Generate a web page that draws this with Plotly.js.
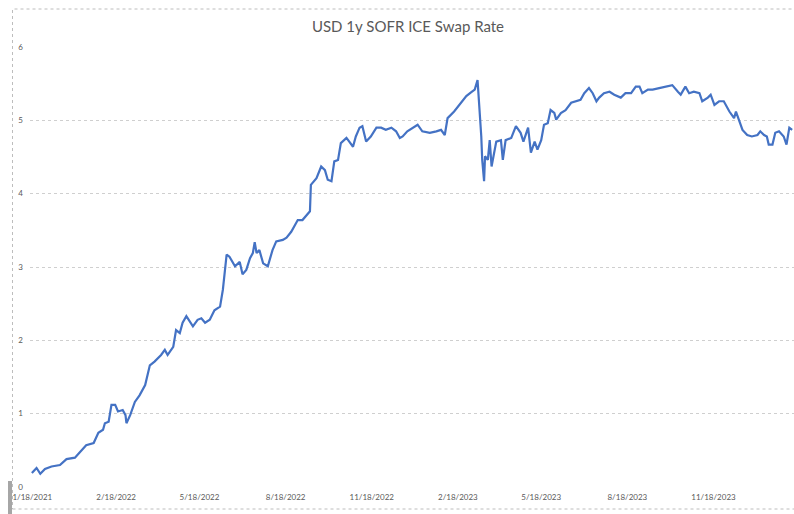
<!DOCTYPE html>
<html>
<head>
<meta charset="utf-8">
<script src="https://cdn.plot.ly/plotly-3.0.1.min.js"></script>
<style>
html,body{margin:0;padding:0;background:#fff;}
#chart{width:794px;height:514px;}
</style>
</head>
<body>
<div id="chart"></div>
<script>
var dates = [
"2021-11-20","2021-11-25","2021-11-29","2021-12-04","2021-12-11","2021-12-20","2021-12-27",
"2022-01-05","2022-01-10","2022-01-17","2022-01-25","2022-01-30","2022-02-04","2022-02-06",
"2022-02-10","2022-02-13","2022-02-17","2022-02-20","2022-02-25","2022-02-28","2022-03-01",
"2022-03-05","2022-03-10","2022-03-15","2022-03-21","2022-03-24","2022-03-26","2022-03-31",
"2022-04-04","2022-04-07","2022-04-11","2022-04-14","2022-04-20","2022-04-23","2022-04-27",
"2022-04-30","2022-05-04","2022-05-08","2022-05-11","2022-05-16","2022-05-20","2022-05-24",
"2022-05-29","2022-06-03","2022-06-09","2022-06-12","2022-06-16","2022-06-19","2022-06-25",
"2022-06-30","2022-07-03","2022-07-07","2022-07-11","2022-07-14","2022-07-16","2022-07-18",
"2022-07-21","2022-07-25","2022-07-30","2022-08-04","2022-08-08","2022-08-15","2022-08-19",
"2022-08-24","2022-08-31","2022-09-05","2022-09-13","2022-09-14","2022-09-20","2022-09-25",
"2022-09-29","2022-10-02","2022-10-06","2022-10-09","2022-10-13","2022-10-16","2022-10-22",
"2022-10-25","2022-10-29","2022-11-01","2022-11-05","2022-11-08","2022-11-12","2022-11-17",
"2022-11-23","2022-11-28","2022-12-03","2022-12-09","2022-12-14","2022-12-18","2022-12-21",
"2022-12-26","2023-01-01","2023-01-06","2023-01-11","2023-01-19","2023-01-26","2023-01-31",
"2023-02-04","2023-02-07","2023-02-14","2023-02-21","2023-02-27","2023-03-04","2023-03-08",
"2023-03-11","2023-03-14","2023-03-15","2023-03-16","2023-03-18","2023-03-19","2023-03-22",
"2023-03-24","2023-03-26","2023-03-31","2023-04-05","2023-04-07","2023-04-10","2023-04-16",
"2023-04-21","2023-04-26","2023-04-29","2023-05-04","2023-05-07","2023-05-11","2023-05-14",
"2023-05-18","2023-05-21","2023-05-25","2023-05-28","2023-06-01","2023-06-03","2023-06-08",
"2023-06-13","2023-06-19","2023-06-24","2023-06-29","2023-07-03","2023-07-08","2023-07-12",
"2023-07-16","2023-07-19","2023-07-24","2023-07-30","2023-08-04","2023-08-11","2023-08-16",
"2023-08-22","2023-08-27","2023-08-31","2023-09-03","2023-09-09","2023-09-14","2023-09-21",
"2023-09-28","2023-10-05","2023-10-11","2023-10-14","2023-10-19","2023-10-23","2023-10-28",
"2023-11-03","2023-11-06","2023-11-12","2023-11-15","2023-11-19","2023-11-24","2023-11-29",
"2023-12-05","2023-12-10","2023-12-12","2023-12-15","2023-12-19","2023-12-24","2023-12-29",
"2024-01-04","2024-01-07","2024-01-11","2024-01-14","2024-01-16","2024-01-20","2024-01-23",
"2024-01-27","2024-02-01","2024-02-04","2024-02-07","2024-02-10"
];
var swapRate = [
0.19,0.26,0.18,0.245,0.28,0.30,0.38,
0.40,0.47,0.57,0.60,0.74,0.78,0.87,
0.89,1.12,1.12,1.03,1.05,0.98,0.87,
0.98,1.16,1.25,1.39,1.55,1.66,1.71,
1.76,1.80,1.87,1.80,1.91,2.14,2.10,
2.24,2.33,2.24,2.19,2.28,2.30,2.24,
2.28,2.41,2.46,2.69,3.17,3.14,3.01,
3.07,2.90,2.96,3.12,3.19,3.34,3.19,
3.23,3.05,3.01,3.23,3.35,3.37,3.40,
3.48,3.64,3.64,3.76,4.12,4.21,4.37,
4.32,4.19,4.17,4.44,4.46,4.69,4.76,
4.71,4.64,4.78,4.90,4.92,4.71,4.78,
4.90,4.90,4.87,4.90,4.85,4.76,4.78,
4.85,4.90,4.94,4.85,4.83,4.85,4.87,
4.80,5.03,5.12,5.24,5.33,5.38,5.42,
5.55,5.01,4.78,4.46,4.17,4.51,4.46,
4.73,4.37,4.71,4.73,4.46,4.73,4.76,
4.92,4.83,4.71,4.90,4.56,4.71,4.60,
4.73,4.94,4.96,5.14,5.10,5.01,5.10,
5.14,5.24,5.26,5.28,5.37,5.44,5.37,
5.26,5.31,5.37,5.39,5.35,5.31,5.37,
5.37,5.46,5.46,5.37,5.42,5.42,5.44,
5.46,5.48,5.39,5.35,5.46,5.37,5.39,
5.37,5.26,5.31,5.35,5.21,5.26,5.26,
5.12,5.03,5.12,5.01,4.87,4.80,4.78,
4.80,4.85,4.80,4.78,4.67,4.67,4.83,
4.85,4.78,4.67,4.90,4.87
];
var tickDates = ["2021-11-18","2022-02-18","2022-05-18","2022-08-18","2022-11-18","2023-02-18","2023-05-18","2023-08-18","2023-11-18"];
var tickLabels = ["11/18/2021","2/18/2022","5/18/2022","8/18/2022","11/18/2022","2/18/2023","5/18/2023","8/18/2023","11/18/2023"];
var yTicks = [0,1,2,3,4,5,6];

var trace = {
  x: dates, y: swapRate, type: 'scatter', mode: 'lines',
  line: {color: '#4472C4', width: 2.2}, hoverinfo: 'skip'
};
var W = 794, H = 514, mL = 30, mR = 0, mT = 47, mB = 27;
var pw = W - mL - mR, ph = H - mT - mB;
function px(x){return (x - mL)/pw;}
function py(y){return (H - mB - y)/ph;}
var layout = {
  width: W, height: H,
  margin: {l: mL, r: mR, t: mT, b: mB, pad: 0},
  paper_bgcolor: '#ffffff', plot_bgcolor: '#ffffff',
  showlegend: false,
  title: {text: 'USD 1y SOFR ICE Swap Rate', xref: 'container', x: 408/794, xanchor: 'center',
          yref: 'container', y: 1 - 27/514, yanchor: 'middle',
          font: {family: 'Lato, Open Sans, sans-serif', size: 15, color: '#595959'}},
  xaxis: {
    type: 'date', range: ['2021-11-18', '2024-02-12'],
    tickvals: tickDates, ticktext: tickLabels,
    showgrid: false, zeroline: false, showline: false, ticks: '',
    tickfont: {family: 'Lato, Open Sans, sans-serif', size: 8, color: '#595959'},
    ticklabelstandoff: 4,
    fixedrange: true
  },
  yaxis: {
    range: [0, 6], tickvals: yTicks,
    showgrid: true, gridcolor: '#cfcfcf', griddash: 'dot', gridwidth: 1,
    zeroline: false, showline: false, ticks: '',
    tickfont: {family: 'Lato, Open Sans, sans-serif', size: 8, color: '#595959'},
    ticklabelstandoff: 6,
    fixedrange: true
  },
  shapes: [
    {type: 'rect', xref: 'paper', yref: 'paper', x0: px(12.5), x1: px(800), y0: py(509), y1: py(9),
     line: {color: '#bdbdbd', width: 1, dash: 'dot'}, fillcolor: 'rgba(0,0,0,0)', layer: 'below'},
    {type: 'rect', xref: 'paper', yref: 'paper', x0: px(8), x1: px(12), y0: py(514), y1: py(481),
     line: {width: 0}, fillcolor: '#a6a6a6', layer: 'above'}
  ]
};
Plotly.newPlot('chart', [trace], layout, {staticPlot: true, displayModeBar: false});
</script>
</body>
</html>
